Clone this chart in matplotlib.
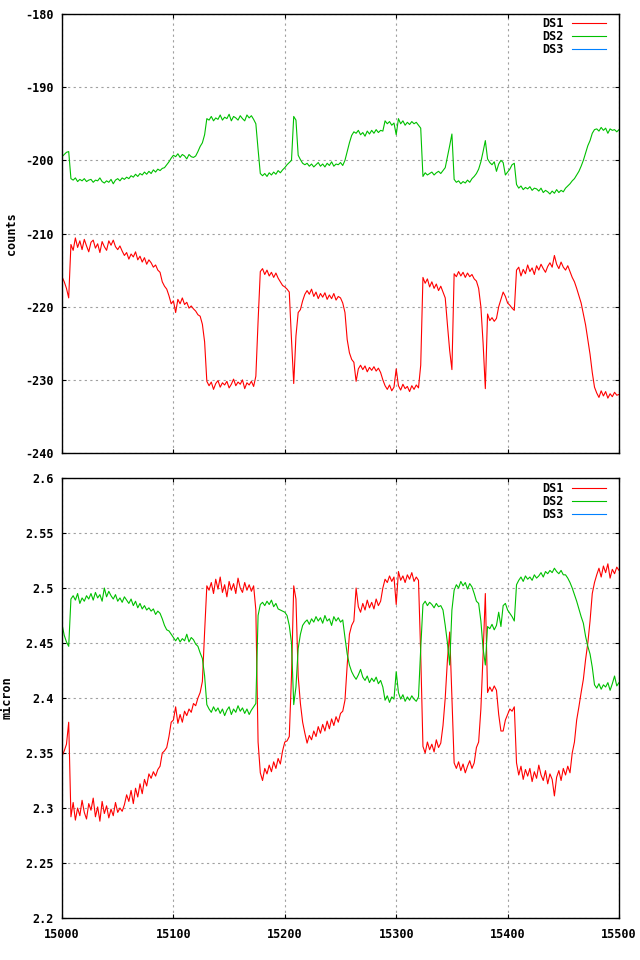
import numpy as np
import matplotlib
matplotlib.use("Agg")
import matplotlib.pyplot as plt

# x grid: 15000..15500 every 2 units
x = np.arange(15000, 15501, 2)

# top panel (counts)
counts_ds1 = [
    -215.9, -216.6, -217.5, -218.8, -211.5, -212.3, -210.6, -211.9, -211.0, -212.2,
    -210.8, -211.7, -212.5, -211.2, -210.9, -212.0, -211.4, -212.6, -211.1, -211.8,
    -212.3, -211.0, -211.6, -210.9, -211.8, -212.2, -211.7, -212.4, -213.0, -212.6,
    -213.5, -212.8, -213.2, -212.5, -213.6, -213.1, -213.9, -213.3, -214.2, -213.6,
    -214.0, -214.6, -214.3, -215.0, -215.3, -216.6, -217.2, -217.6, -218.5, -219.6,
    -219.2, -220.8, -219.0, -219.6, -218.8, -219.7, -219.4, -220.2, -219.9, -220.3,
    -220.6, -221.1, -221.3, -222.4, -224.8, -230.2, -230.8, -230.3, -231.3, -230.5,
    -230.1, -231.0, -230.4, -230.7, -230.2, -231.1, -230.6, -229.9, -230.8, -230.3,
    -230.6, -230.0, -231.2, -230.4, -230.7, -230.2, -230.9, -229.5, -222.0, -215.2,
    -214.8, -215.6, -215.0, -215.8, -215.3, -216.0, -215.4, -216.1, -216.6, -217.1,
    -217.3, -217.6, -218.0, -224.5, -230.5, -224.0, -220.8, -220.4, -219.2, -218.3,
    -217.8, -218.3, -217.6, -218.6, -218.0, -218.9, -218.2, -218.7, -218.1, -219.0,
    -218.4, -218.9, -218.2, -219.1, -218.6, -218.8, -219.5, -220.8, -224.5, -226.3,
    -227.2, -227.6, -230.2, -228.5, -228.0, -228.6, -228.1, -228.9, -228.3, -228.7,
    -228.2, -228.8, -228.4, -229.0, -230.0, -230.8, -231.3, -230.7, -231.5, -231.0,
    -228.5, -230.8, -231.4, -230.6, -231.2, -230.9, -231.6, -230.8, -231.3, -230.7,
    -231.1, -228.0, -216.0, -216.8, -216.2, -217.3, -216.6, -217.5, -216.9, -217.8,
    -217.2, -218.0, -218.8, -222.5, -226.0, -228.6, -215.5, -215.9, -215.2, -215.8,
    -215.3, -216.0, -215.4, -215.9, -215.6, -216.2, -216.5, -217.5, -220.0, -225.0,
    -231.2, -221.0, -221.9, -221.5, -222.0, -221.6, -220.0, -219.0, -218.0, -218.6,
    -219.5, -219.8, -220.2, -220.5, -215.0, -214.6, -215.8, -214.9, -215.5, -214.3,
    -215.2, -214.7, -215.6, -214.4, -215.0, -214.2, -214.8, -215.3, -214.5, -214.0,
    -214.6, -213.0, -214.2, -214.8, -213.9, -214.6, -215.0, -214.4, -215.2, -216.0,
    -216.6, -217.5, -218.5, -219.5, -221.0, -222.5, -224.5, -226.5, -229.0, -231.0,
    -231.8, -232.4, -231.5, -232.2, -231.6, -232.5, -231.9, -232.3, -231.7, -232.1,
    -232.0,
]
counts_ds2 = [
    -199.5, -199.2, -198.9, -198.8, -202.5, -202.7, -202.4, -202.9, -202.6, -202.8,
    -202.5, -202.9, -202.7, -202.6, -203.0, -202.7, -202.8, -202.4, -202.9, -203.1,
    -202.8, -203.0, -202.6, -203.2, -202.7, -202.5, -202.8, -202.4, -202.6, -202.3,
    -202.5, -202.1, -202.3, -201.9, -202.2, -201.8, -202.0, -201.6, -201.9, -201.5,
    -201.8, -201.3, -201.6, -201.2, -201.4, -201.1, -201.0, -200.6, -200.2, -199.7,
    -199.3, -199.5, -199.1, -199.6, -199.2, -199.4, -199.8, -199.2, -199.5, -199.6,
    -199.4, -198.8, -198.1, -197.6, -196.5, -194.3, -194.5, -194.0, -194.6, -194.2,
    -194.4, -193.8, -194.5, -194.1, -194.3, -193.7, -194.6, -194.0, -194.2, -194.5,
    -193.9, -194.3, -194.6, -193.8, -194.2, -193.9, -194.4, -195.0, -198.5, -201.8,
    -202.1, -201.8, -202.2, -201.7, -202.0, -201.6, -201.9, -201.4, -201.7, -201.3,
    -201.0, -200.6, -200.3, -200.0, -194.0, -194.5, -199.3, -199.9, -200.4, -200.6,
    -200.4, -200.8, -200.5, -200.9, -200.6, -200.3, -200.8, -200.5, -200.9, -200.4,
    -200.7, -200.2, -200.8, -200.5, -200.6, -200.3, -200.7, -200.0, -198.8, -197.6,
    -196.6, -196.1, -196.3, -195.9, -196.5, -196.2, -196.7, -196.0, -196.4, -195.9,
    -196.3, -195.8, -196.2, -195.9, -196.0, -194.6, -195.0, -194.7, -195.2, -194.9,
    -196.5, -194.3, -195.0, -194.6, -195.2, -194.8, -195.1, -194.7, -195.0, -194.8,
    -195.2, -195.6, -202.2, -201.7, -202.0, -201.8, -201.6, -202.0, -201.7, -201.5,
    -201.8, -201.4, -201.0, -199.5, -198.0, -196.4, -202.6, -203.0, -202.8, -203.2,
    -202.9, -203.1, -202.7, -203.0, -202.5, -202.2, -201.8, -201.2, -200.2, -198.8,
    -197.3, -199.8, -200.3, -200.6, -200.2, -201.5, -200.5, -200.0, -200.3, -202.0,
    -201.6, -201.2, -200.6, -200.4, -203.3, -203.8, -203.5, -204.0, -203.7, -203.9,
    -203.6, -204.1, -203.8, -203.9, -204.2, -203.8, -204.4, -204.1, -204.3, -204.6,
    -204.2, -204.5, -204.0, -204.4, -204.1, -204.3, -203.8, -203.5, -203.2, -202.8,
    -202.5, -202.0, -201.5, -200.8, -200.0, -199.0, -198.0, -197.3, -196.3, -195.8,
    -195.7, -196.0, -195.5, -195.9, -195.6, -196.3, -195.7, -195.9, -195.8, -196.1,
    -195.8,
]

# bottom panel (micron)
micron_ds1 = [
    2.347, 2.352, 2.358, 2.378, 2.292, 2.305, 2.289, 2.300, 2.293, 2.307,
    2.296, 2.290, 2.304, 2.298, 2.309, 2.292, 2.301, 2.288, 2.306, 2.295,
    2.302, 2.291, 2.299, 2.293, 2.305, 2.296, 2.300, 2.297, 2.303, 2.312,
    2.306, 2.316, 2.304, 2.318, 2.310, 2.322, 2.313, 2.326, 2.320, 2.331,
    2.327, 2.333, 2.329, 2.335, 2.338, 2.350, 2.352, 2.355, 2.365, 2.378,
    2.380, 2.392, 2.377, 2.385, 2.378, 2.388, 2.384, 2.390, 2.387, 2.395,
    2.393, 2.400, 2.405, 2.415, 2.460, 2.502, 2.498, 2.505, 2.495, 2.508,
    2.499, 2.510, 2.496, 2.503, 2.492, 2.506, 2.498, 2.504, 2.495, 2.509,
    2.500, 2.496, 2.505, 2.498, 2.503, 2.497, 2.502, 2.480, 2.360, 2.332,
    2.325, 2.336, 2.331, 2.339, 2.333, 2.342, 2.336, 2.345, 2.340, 2.352,
    2.360, 2.361, 2.365, 2.420, 2.502, 2.490, 2.420, 2.395, 2.378, 2.368,
    2.359, 2.366, 2.362, 2.370, 2.365, 2.374, 2.368, 2.376, 2.370, 2.379,
    2.372, 2.381, 2.375, 2.383, 2.378, 2.386, 2.388, 2.398, 2.430, 2.458,
    2.466, 2.470, 2.500, 2.483, 2.478, 2.486, 2.480, 2.489, 2.482, 2.487,
    2.481, 2.490, 2.484, 2.488, 2.500, 2.508, 2.505, 2.511, 2.506, 2.510,
    2.485, 2.515, 2.507, 2.511, 2.505, 2.512, 2.508, 2.514, 2.506, 2.510,
    2.507, 2.440, 2.356, 2.350, 2.360, 2.353, 2.358, 2.351, 2.362, 2.355,
    2.359, 2.375, 2.400, 2.435, 2.460, 2.400, 2.341, 2.336, 2.342, 2.334,
    2.340, 2.332, 2.338, 2.343, 2.336, 2.341, 2.355, 2.360, 2.390, 2.440,
    2.495, 2.405, 2.410, 2.406, 2.411, 2.407, 2.385, 2.370, 2.370, 2.380,
    2.385, 2.390, 2.388, 2.392, 2.341, 2.330, 2.338, 2.326, 2.335, 2.329,
    2.336, 2.324, 2.333, 2.327, 2.339, 2.330, 2.325, 2.334, 2.322, 2.331,
    2.326, 2.311, 2.328, 2.334, 2.325, 2.336, 2.330, 2.338, 2.332, 2.350,
    2.360, 2.380, 2.392, 2.405, 2.417, 2.435, 2.450, 2.470, 2.495, 2.505,
    2.512, 2.518, 2.510, 2.520, 2.514, 2.522, 2.509, 2.517, 2.513, 2.519,
    2.516,
]
micron_ds2 = [
    2.467, 2.457, 2.451, 2.447, 2.490, 2.493, 2.489, 2.495, 2.486, 2.491,
    2.488, 2.493, 2.490, 2.495, 2.489, 2.496, 2.491, 2.494, 2.488, 2.500,
    2.492, 2.497, 2.493, 2.490, 2.494, 2.488, 2.491, 2.487, 2.492, 2.489,
    2.486, 2.490, 2.484, 2.488, 2.482, 2.486, 2.481, 2.484, 2.480, 2.482,
    2.479, 2.481, 2.476, 2.479, 2.477, 2.472, 2.466, 2.462, 2.461, 2.458,
    2.455, 2.452, 2.455, 2.451, 2.454, 2.452, 2.458, 2.451, 2.455, 2.453,
    2.449, 2.447, 2.441, 2.436, 2.420, 2.394, 2.390, 2.387, 2.392, 2.388,
    2.391, 2.386, 2.390, 2.384, 2.389, 2.392, 2.385, 2.390, 2.387, 2.393,
    2.388, 2.391, 2.386, 2.390, 2.385, 2.389, 2.392, 2.395, 2.475, 2.485,
    2.487, 2.484, 2.488, 2.485, 2.489, 2.483, 2.486, 2.481, 2.480, 2.479,
    2.478, 2.475, 2.466, 2.450, 2.394, 2.410, 2.445, 2.458, 2.466, 2.469,
    2.471, 2.467, 2.472, 2.469, 2.474, 2.470, 2.473, 2.468, 2.475, 2.470,
    2.472, 2.466, 2.474, 2.470, 2.473, 2.469, 2.471, 2.455, 2.440, 2.430,
    2.424, 2.420, 2.417, 2.421, 2.426, 2.419, 2.416, 2.420, 2.414, 2.418,
    2.415, 2.419, 2.413, 2.416, 2.410, 2.398, 2.402, 2.396, 2.401, 2.399,
    2.424, 2.405, 2.399, 2.403, 2.397, 2.401, 2.398, 2.402, 2.399, 2.397,
    2.401, 2.445, 2.485, 2.488, 2.484, 2.487, 2.485, 2.482, 2.486, 2.483,
    2.484, 2.480, 2.466, 2.450, 2.430, 2.480, 2.498, 2.503, 2.500, 2.506,
    2.502, 2.505, 2.499, 2.504, 2.501, 2.495, 2.488, 2.486, 2.470, 2.445,
    2.430, 2.465, 2.463, 2.467, 2.462, 2.466, 2.478, 2.465, 2.484, 2.486,
    2.480, 2.477, 2.474, 2.470, 2.503, 2.507, 2.510, 2.506, 2.511, 2.508,
    2.510, 2.507, 2.512, 2.509, 2.511, 2.514, 2.510, 2.515, 2.513, 2.516,
    2.514, 2.518, 2.515, 2.513, 2.516, 2.512, 2.512, 2.509, 2.505, 2.500,
    2.494, 2.488, 2.481, 2.474, 2.468, 2.456, 2.447, 2.440, 2.428, 2.412,
    2.409, 2.413, 2.408, 2.412, 2.410, 2.414, 2.407, 2.413, 2.420, 2.411,
    2.414,
]

RED = "#ff0000"
GREEN = "#00c000"
BLUE = "#0080ff"
FONT = dict(family="DejaVu Sans Mono", weight="bold", size=8.5)

fig = plt.figure(figsize=(6.4, 9.6), dpi=100)
ax1 = fig.add_axes([0.0969, 0.5281, 0.8703, 0.4573])
ax2 = fig.add_axes([0.0969, 0.04375, 0.8703, 0.4583])


def style(ax, yticks, ylabel, show_x, label_x, leg_dy):
    ax.set_xlim(15000, 15500)
    ax.set_xticks([15000, 15100, 15200, 15300, 15400, 15500])
    ax.set_yticks(yticks)
    ax.set_ylim(yticks[0], yticks[-1])
    ax.grid(True, color="#a0a0a0", linestyle=(0, (2, 3)), linewidth=0.8)
    ax.tick_params(direction="in", top=True, right=True, length=3.2, width=0.8,
                   colors="black")
    ax.tick_params(axis="x", pad=7)
    ax.tick_params(axis="y", pad=6)
    for s in ax.spines.values():
        s.set_linewidth(1.0)
    if show_x:
        ax.set_xticklabels([str(v) for v in ax.get_xticks().astype(int)], **FONT)
    else:
        ax.set_xticklabels([])
    ax.set_yticklabels([("%g" % v) for v in yticks], **FONT)
    ax.set_ylabel(ylabel, **FONT)
    ax.yaxis.set_label_coords(label_x, 0.5)
    ax.legend(loc="upper right", frameon=False, markerfirst=False,
              handlelength=2.9, handletextpad=0.7, labelspacing=0.0,
              borderpad=0.0, borderaxespad=0.0,
              bbox_to_anchor=(1 - 13 / 557, 1 - leg_dy / 439), prop=FONT)


ax1.plot(x, counts_ds1, color=RED, lw=0.8, label="DS1")
ax1.plot(x, counts_ds2, color=GREEN, lw=0.8, label="DS2")
ax1.plot([], [], color=BLUE, lw=0.8, label="DS3")
style(ax1, [-240, -230, -220, -210, -200, -190, -180], "counts", False,
      -0.079, 3)

ax2.plot(x, micron_ds1, color=RED, lw=0.8, label="DS1")
ax2.plot(x, micron_ds2, color=GREEN, lw=0.8, label="DS2")
ax2.plot([], [], color=BLUE, lw=0.8, label="DS3")
style(ax2, [2.2, 2.25, 2.3, 2.35, 2.4, 2.45, 2.5, 2.55, 2.6], "micron", True,
      -0.087, 4)

fig.savefig("out.png", dpi=100)
